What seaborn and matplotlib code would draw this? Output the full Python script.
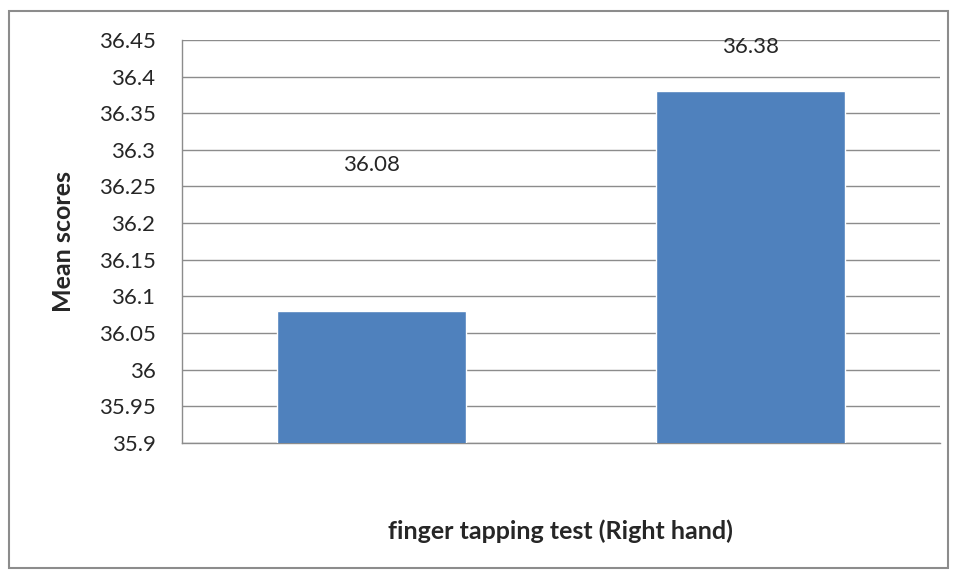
import matplotlib
matplotlib.use("Agg")
import matplotlib.pyplot as plt
import seaborn as sns
import pandas as pd
from matplotlib.patches import Rectangle

groups = ["Group 1", "Group 2"]
mean_scores = [36.08, 36.38]
value_labels = ["36.08", "36.38"]
y_ticks = [35.9, 35.95, 36.0, 36.05, 36.1, 36.15, 36.2, 36.25, 36.3, 36.35, 36.4, 36.45]
y_tick_labels = ["35.9", "35.95", "36", "36.05", "36.1", "36.15", "36.2",
                 "36.25", "36.3", "36.35", "36.4", "36.45"]

df = pd.DataFrame({"group": groups, "score": mean_scores})

sns.set_style("white")
plt.rcParams["font.family"] = ["Lato", "DejaVu Sans"]

fig = plt.figure(figsize=(9.57, 5.79), dpi=100)
ax = fig.add_axes([0.190, 0.235, 0.792, 0.696])

sns.barplot(data=df, x="group", y="score", color="#4F81BD", saturation=1,
            width=0.5, ax=ax, zorder=3)

ax.set_ylim(35.9, 36.45)
ax.set_yticks(y_ticks)
ax.set_yticklabels(y_tick_labels, fontsize=16)
ax.set_xticks([])
ax.set_xlim(-0.5, 1.5)
ax.yaxis.grid(True, color="#8c8c8c", linewidth=1, zorder=0)
ax.tick_params(axis="y", length=0, pad=19)

for s in ["top", "right"]:
    ax.spines[s].set_visible(False)
for s in ["left", "bottom"]:
    ax.spines[s].set_color("#8c8c8c")
    ax.spines[s].set_linewidth(1)

# data labels sit well above the bars, as in the original
label_y = [36.28, 36.44]
for i, (txt, y) in enumerate(zip(value_labels, label_y)):
    ax.text(i, y, txt, ha="center", va="center", fontsize=16, zorder=4)

ax.set_ylabel("Mean scores", fontsize=18, fontweight="bold", labelpad=17)
ax.set_xlabel("finger tapping test (Right hand)", fontsize=18, fontweight="bold",
              labelpad=55)

fig.patches.append(Rectangle((9 / 957, 11 / 579), 939 / 957, 557 / 579,
                             transform=fig.transFigure, fill=False,
                             edgecolor="#8c8c8c", linewidth=1.5))

fig.savefig("out.png", dpi=100)
